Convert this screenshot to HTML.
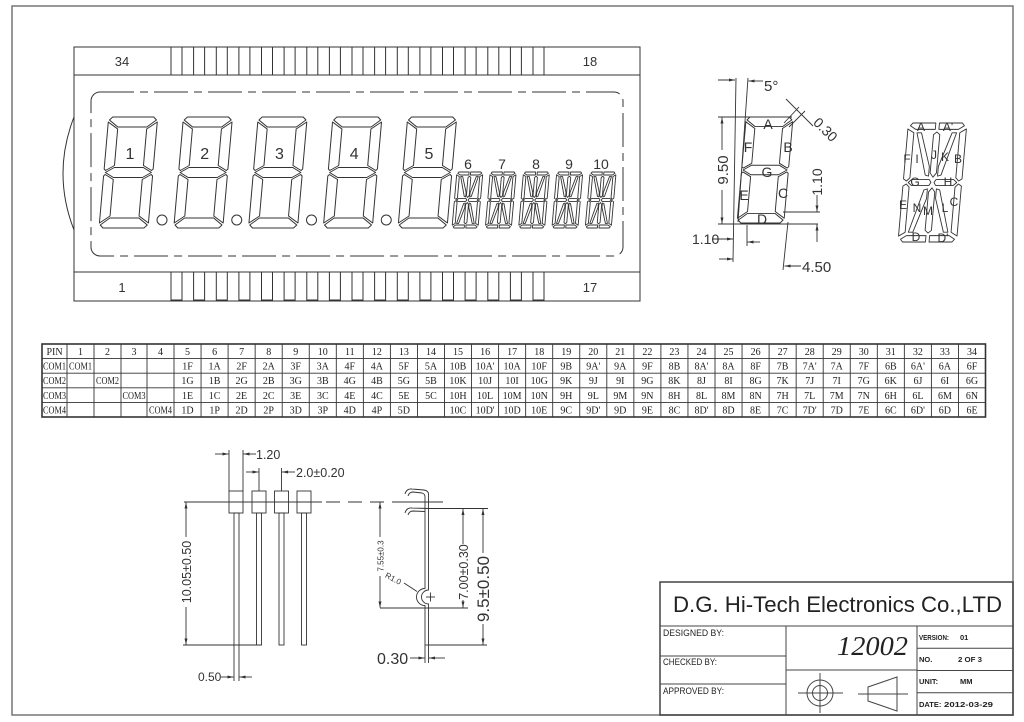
<!DOCTYPE html>
<html><head><meta charset="utf-8"><style>
html,body{margin:0;padding:0;background:#fff}
svg{display:block}
</style></head><body>
<svg xmlns="http://www.w3.org/2000/svg" width="1024" height="722" viewBox="0 0 1024 722">
<defs>
<marker id="a" viewBox="0 0 8 4" refX="8" refY="2" markerWidth="7" markerHeight="3" orient="auto-start-reverse" markerUnits="userSpaceOnUse"><path d="M0,0L8,2L0,4z" fill="#333"/></marker>
<g id="d7" transform="translate(0,-111)" fill="none" stroke="#333" stroke-width="1" stroke-linejoin="round">
<polygon points="4,0 45,0 48,3 39,10 10,10 1,3"/>
<polygon points="49,5 49,52 47.5,53.5 39,48.5 39,12"/>
<polygon points="0,5 10,12 10,48.5 1.5,53.5 0,52"/>
<polygon points="1.5,55.5 10,50.5 39,50.5 47.5,55.5 39,60.5 10,60.5"/>
<polygon points="49,106 49,59 47.5,57.5 39,62.5 39,99"/>
<polygon points="0,106 0,59 1.5,57.5 10,62.5 10,99"/>
<polygon points="4,111 45,111 48,108 39,101 10,101 1,108"/>
</g>
<g id="d14" transform="translate(0,-56)" fill="none" stroke="#333" stroke-width="0.9" stroke-linejoin="round">
<polygon vector-effect="non-scaling-stroke" points="2,0 12.2,0 12.2,3 3.5,3 1,1.3"/>
<polygon vector-effect="non-scaling-stroke" points="13.8,0 24,0 25,1.3 22.5,3 13.8,3"/>
<polygon vector-effect="non-scaling-stroke" points="0,2.8 2.8,4.6 2.8,25.8 1.4,27.3 0,26.3"/>
<polygon vector-effect="non-scaling-stroke" points="26,2.8 26,26.3 24.6,27.3 23.2,25.8 23.2,4.6"/>
<polygon vector-effect="non-scaling-stroke" points="0,29.7 1.4,28.7 2.8,30.2 2.8,51.4 0,53.2"/>
<polygon vector-effect="non-scaling-stroke" points="26,29.7 24.6,28.7 23.2,30.2 23.2,51.4 26,53.2"/>
<polygon vector-effect="non-scaling-stroke" points="1,54.7 3.5,53 12.2,53 12.2,56 2,56"/>
<polygon vector-effect="non-scaling-stroke" points="13.8,53 22.5,53 25,54.7 24,56 13.8,56"/>
<polygon vector-effect="non-scaling-stroke" points="2.2,28 3.7,26.6 11.5,26.6 12.3,28 11.5,29.4 3.7,29.4"/>
<polygon vector-effect="non-scaling-stroke" points="13.7,28 14.5,26.6 22.3,26.6 23.8,28 22.3,29.4 14.5,29.4"/>
<polygon vector-effect="non-scaling-stroke" points="11.6,5.5 13,4.2 14.4,5.5 14.4,23.5 13,25.5 11.6,23.5"/>
<polygon vector-effect="non-scaling-stroke" points="11.6,32.5 13,30.5 14.4,32.5 14.4,50.5 13,51.8 11.6,50.5"/>
<polygon vector-effect="non-scaling-stroke" points="4.2,4.6 6.2,4.6 11,20.5 11,25 9.5,24.5"/>
<polygon vector-effect="non-scaling-stroke" points="21.8,4.6 19.8,4.6 15,20.5 15,25 16.5,24.5"/>
<polygon vector-effect="non-scaling-stroke" points="4.2,51.4 6.2,51.4 11,35.5 11,31 9.5,31.5"/>
<polygon vector-effect="non-scaling-stroke" points="21.8,51.4 19.8,51.4 15,35.5 15,31 16.5,31.5"/>
</g>
<g id="pins" fill="none" stroke="#333" stroke-width="1">
<rect x="171" y="47" width="11" height="28"/><rect x="193.6" y="47" width="11" height="28"/><rect x="216.3" y="47" width="11" height="28"/><rect x="238.9" y="47" width="11" height="28"/><rect x="261.5" y="47" width="11" height="28"/><rect x="284.1" y="47" width="11" height="28"/><rect x="306.8" y="47" width="11" height="28"/><rect x="329.4" y="47" width="11" height="28"/><rect x="352" y="47" width="11" height="28"/><rect x="374.6" y="47" width="11" height="28"/><rect x="397.3" y="47" width="11" height="28"/><rect x="419.9" y="47" width="11" height="28"/><rect x="442.5" y="47" width="11" height="28"/><rect x="465.1" y="47" width="11" height="28"/><rect x="487.8" y="47" width="11" height="28"/><rect x="510.4" y="47" width="11" height="28"/><rect x="533" y="47" width="11" height="28"/>
</g>
</defs>

<!-- outer frame -->
<rect x="12" y="6" width="1001" height="709" fill="none" stroke="#777" stroke-width="1.5"/>

<!-- LCD outline -->
<g fill="none" stroke="#333" stroke-width="1">
<rect x="74" y="47" width="566" height="254"/>
<line x1="74" y1="75" x2="640" y2="75"/>
<line x1="74" y1="272" x2="640" y2="272"/>
<path d="M74,117 Q52,173.5 74,230"/>
<rect x="91" y="92" width="532" height="164" rx="9" stroke-dasharray="34 6 8 6"/>
</g>
<use href="#pins"/>
<use href="#pins" transform="translate(0,225)"/>
<g font-family="Liberation Sans, DejaVu Sans, sans-serif" font-size="13" fill="#333" text-anchor="middle">
<text x="122" y="66">34</text><text x="590" y="66">18</text>
<text x="122" y="292">1</text><text x="590" y="292">17</text>
</g>

<!-- 7-seg digits -->
<use href="#d7" transform="translate(99,228) skewX(-5)"/>
<use href="#d7" transform="translate(173.75,228) skewX(-5)"/>
<use href="#d7" transform="translate(248.5,228) skewX(-5)"/>
<use href="#d7" transform="translate(323.25,228) skewX(-5)"/>
<use href="#d7" transform="translate(398,228) skewX(-5)"/>
<g fill="none" stroke="#333" stroke-width="1">
<circle cx="162" cy="220" r="5"/><circle cx="236.75" cy="220" r="5"/><circle cx="311.5" cy="220" r="5"/><circle cx="386.25" cy="220" r="5"/>
</g>
<g font-family="Liberation Sans, DejaVu Sans, sans-serif" font-size="16" fill="#333" text-anchor="middle">
<text x="130" y="159">1</text><text x="204.75" y="159">2</text><text x="279.5" y="159">3</text><text x="354.25" y="159">4</text><text x="429" y="159">5</text>
</g>
<!-- 14-seg digits -->
<use href="#d14" transform="translate(452,228) skewX(-5)"/>
<use href="#d14" transform="translate(485.3,228) skewX(-5)"/>
<use href="#d14" transform="translate(518.6,228) skewX(-5)"/>
<use href="#d14" transform="translate(551.9,228) skewX(-5)"/>
<use href="#d14" transform="translate(585.2,228) skewX(-5)"/>
<g font-family="Liberation Sans, DejaVu Sans, sans-serif" font-size="14" fill="#333" text-anchor="middle">
<text x="468" y="169">6</text><text x="502" y="169">7</text><text x="536" y="169">8</text><text x="569" y="169">9</text><text x="601" y="169">10</text>
</g>

<!-- right 7-seg dimension diagram -->
<use href="#d7" transform="translate(737,223) skewX(-5) scale(0.955)"/>
<g fill="none" stroke="#333" stroke-width="0.9">
<line x1="736" y1="78" x2="733" y2="262"/>
<line x1="748" y1="78" x2="738" y2="222"/>
<line x1="718" y1="117" x2="792" y2="117"/>
<line x1="718" y1="224" x2="818" y2="224"/>
<line x1="722" y1="150" x2="722" y2="117.5" marker-end="url(#a)"/>
<line x1="722" y1="190" x2="722" y2="223.5" marker-end="url(#a)"/>
<line x1="718" y1="80" x2="735" y2="80" marker-end="url(#a)"/>
<line x1="763" y1="81" x2="748.5" y2="81" marker-end="url(#a)"/>
<line x1="786" y1="99" x2="813" y2="126"/>
<line x1="789" y1="127" x2="805" y2="111"/>
<line x1="784" y1="123" x2="799" y2="107"/>
<line x1="783" y1="212" x2="820" y2="212"/>
<line x1="817" y1="195" x2="817" y2="211.5" marker-end="url(#a)"/>
<line x1="817" y1="242" x2="817" y2="224.5" marker-end="url(#a)"/>
<line x1="712" y1="239" x2="733" y2="239" marker-end="url(#a)"/>
<line x1="747" y1="225" x2="747" y2="246"/>
<line x1="760" y1="242" x2="747.5" y2="242" marker-end="url(#a)"/>
<line x1="788" y1="222" x2="783" y2="270"/>
<line x1="719" y1="259" x2="733" y2="259" marker-end="url(#a)"/>
<line x1="801" y1="266" x2="784.5" y2="266" marker-end="url(#a)"/>
</g>
<g font-family="Liberation Sans, DejaVu Sans, sans-serif" fill="#333">
<text x="764" y="91" font-size="15">5°</text>
<text transform="translate(822,133) rotate(45)" font-size="14" text-anchor="middle">0.30</text>
<text transform="translate(728,170) rotate(-90)" font-size="15" text-anchor="middle">9.50</text>
<text transform="translate(822,182) rotate(-90)" font-size="14" text-anchor="middle">1.10</text>
<text x="692" y="244" font-size="14">1.10</text>
<text x="802" y="272" font-size="15">4.50</text>
</g>
<g font-family="Liberation Sans, DejaVu Sans, sans-serif" font-size="14" fill="#333" text-anchor="middle">
<text x="768" y="129">A</text><text x="748" y="152">F</text><text x="788" y="152">B</text><text x="767" y="177">G</text><text x="744" y="200">E</text><text x="783" y="198">C</text><text x="762" y="224">D</text>
</g>

<!-- right 14-seg diagram -->
<use href="#d14" transform="translate(898,242) skewX(-5) scale(2.25,2.125)"/>
<g font-family="Liberation Sans, DejaVu Sans, sans-serif" font-size="12" fill="#333" text-anchor="middle">
<text x="921" y="131">A</text><text x="948" y="131">A'</text>
<text x="907" y="163">F</text><text x="917" y="163">I</text><text x="934" y="159">J</text><text x="945" y="161">K</text><text x="958" y="163">B</text>
<text x="915" y="186">G</text><text x="948" y="186">H</text>
<text x="903" y="209">E</text><text x="917" y="212">N</text><text x="928" y="215">M</text><text x="945" y="212">L</text><text x="954" y="206">C</text>
<text x="916" y="241">D</text><text x="943" y="242">D'</text>
</g>

<!-- table -->
<g fill="none" stroke="#333">
<rect x="42" y="344" width="943.5" height="73" stroke-width="1.6"/>
<path stroke-width="0.9" d="M42,358.6H985.5M42,373.2H985.5M42,387.8H985.5M42,402.4H985.5
M67,344V417M94,344V417M121,344V417M147,344V417M174,344V417
M201.05,344V417M228.1,344V417M255.15,344V417M282.2,344V417M309.25,344V417M336.3,344V417M363.35,344V417M390.4,344V417M417.45,344V417M444.5,344V417M471.55,344V417M498.6,344V417M525.65,344V417M552.7,344V417M579.75,344V417M606.8,344V417M633.85,344V417M660.9,344V417M687.95,344V417M715,344V417M742.05,344V417M769.1,344V417M796.15,344V417M823.2,344V417M850.25,344V417M877.3,344V417M904.35,344V417M931.4,344V417M958.45,344V417"/>
</g>
<g font-family="Liberation Serif, DejaVu Serif, serif" font-size="10" fill="#222" text-anchor="middle">
<text y="355"><tspan x="54.5">PIN</tspan><tspan x="80.5">1</tspan><tspan x="107.5">2</tspan><tspan x="134">3</tspan><tspan x="160.5">4</tspan><tspan x="187.5">5</tspan><tspan x="214.6">6</tspan><tspan x="241.6">7</tspan><tspan x="268.7">8</tspan><tspan x="295.7">9</tspan><tspan x="322.8">10</tspan><tspan x="349.8">11</tspan><tspan x="376.9">12</tspan><tspan x="403.9">13</tspan><tspan x="431">14</tspan><tspan x="458">15</tspan><tspan x="485.1">16</tspan><tspan x="512.1">17</tspan><tspan x="539.2">18</tspan><tspan x="566.2">19</tspan><tspan x="593.3">20</tspan><tspan x="620.3">21</tspan><tspan x="647.4">22</tspan><tspan x="674.4">23</tspan><tspan x="701.5">24</tspan><tspan x="728.5">25</tspan><tspan x="755.6">26</tspan><tspan x="782.6">27</tspan><tspan x="809.7">28</tspan><tspan x="836.7">29</tspan><tspan x="863.8">30</tspan><tspan x="890.8">31</tspan><tspan x="917.9">32</tspan><tspan x="944.9">33</tspan><tspan x="972">34</tspan></text>
<text x="54.5" y="369.6" textLength="23" lengthAdjust="spacingAndGlyphs">COM1</text>
<text x="80.5" y="369.6" textLength="23" lengthAdjust="spacingAndGlyphs">COM1</text>
<text y="369.6"><tspan x="187.5">1F</tspan><tspan x="214.6">1A</tspan><tspan x="241.6">2F</tspan><tspan x="268.7">2A</tspan><tspan x="295.7">3F</tspan><tspan x="322.8">3A</tspan><tspan x="349.8">4F</tspan><tspan x="376.9">4A</tspan><tspan x="403.9">5F</tspan><tspan x="431">5A</tspan><tspan x="458">10B</tspan><tspan x="485.1">10A'</tspan><tspan x="512.1">10A</tspan><tspan x="539.2">10F</tspan><tspan x="566.2">9B</tspan><tspan x="593.3">9A'</tspan><tspan x="620.3">9A</tspan><tspan x="647.4">9F</tspan><tspan x="674.4">8B</tspan><tspan x="701.5">8A'</tspan><tspan x="728.5">8A</tspan><tspan x="755.6">8F</tspan><tspan x="782.6">7B</tspan><tspan x="809.7">7A'</tspan><tspan x="836.7">7A</tspan><tspan x="863.8">7F</tspan><tspan x="890.8">6B</tspan><tspan x="917.9">6A'</tspan><tspan x="944.9">6A</tspan><tspan x="972">6F</tspan></text>
<text x="54.5" y="384.2" textLength="23" lengthAdjust="spacingAndGlyphs">COM2</text>
<text x="107.5" y="384.2" textLength="23" lengthAdjust="spacingAndGlyphs">COM2</text>
<text y="384.2"><tspan x="187.5">1G</tspan><tspan x="214.6">1B</tspan><tspan x="241.6">2G</tspan><tspan x="268.7">2B</tspan><tspan x="295.7">3G</tspan><tspan x="322.8">3B</tspan><tspan x="349.8">4G</tspan><tspan x="376.9">4B</tspan><tspan x="403.9">5G</tspan><tspan x="431">5B</tspan><tspan x="458">10K</tspan><tspan x="485.1">10J</tspan><tspan x="512.1">10I</tspan><tspan x="539.2">10G</tspan><tspan x="566.2">9K</tspan><tspan x="593.3">9J</tspan><tspan x="620.3">9I</tspan><tspan x="647.4">9G</tspan><tspan x="674.4">8K</tspan><tspan x="701.5">8J</tspan><tspan x="728.5">8I</tspan><tspan x="755.6">8G</tspan><tspan x="782.6">7K</tspan><tspan x="809.7">7J</tspan><tspan x="836.7">7I</tspan><tspan x="863.8">7G</tspan><tspan x="890.8">6K</tspan><tspan x="917.9">6J</tspan><tspan x="944.9">6I</tspan><tspan x="972">6G</tspan></text>
<text x="54.5" y="398.8" textLength="23" lengthAdjust="spacingAndGlyphs">COM3</text>
<text x="134" y="398.8" textLength="23" lengthAdjust="spacingAndGlyphs">COM3</text>
<text y="398.8"><tspan x="187.5">1E</tspan><tspan x="214.6">1C</tspan><tspan x="241.6">2E</tspan><tspan x="268.7">2C</tspan><tspan x="295.7">3E</tspan><tspan x="322.8">3C</tspan><tspan x="349.8">4E</tspan><tspan x="376.9">4C</tspan><tspan x="403.9">5E</tspan><tspan x="431">5C</tspan><tspan x="458">10H</tspan><tspan x="485.1">10L</tspan><tspan x="512.1">10M</tspan><tspan x="539.2">10N</tspan><tspan x="566.2">9H</tspan><tspan x="593.3">9L</tspan><tspan x="620.3">9M</tspan><tspan x="647.4">9N</tspan><tspan x="674.4">8H</tspan><tspan x="701.5">8L</tspan><tspan x="728.5">8M</tspan><tspan x="755.6">8N</tspan><tspan x="782.6">7H</tspan><tspan x="809.7">7L</tspan><tspan x="836.7">7M</tspan><tspan x="863.8">7N</tspan><tspan x="890.8">6H</tspan><tspan x="917.9">6L</tspan><tspan x="944.9">6M</tspan><tspan x="972">6N</tspan></text>
<text x="54.5" y="413.4" textLength="23" lengthAdjust="spacingAndGlyphs">COM4</text>
<text x="160.5" y="413.4" textLength="23" lengthAdjust="spacingAndGlyphs">COM4</text>
<text y="413.4"><tspan x="187.5">1D</tspan><tspan x="214.6">1P</tspan><tspan x="241.6">2D</tspan><tspan x="268.7">2P</tspan><tspan x="295.7">3D</tspan><tspan x="322.8">3P</tspan><tspan x="349.8">4D</tspan><tspan x="376.9">4P</tspan><tspan x="403.9">5D</tspan><tspan x="458">10C</tspan><tspan x="485.1">10D'</tspan><tspan x="512.1">10D</tspan><tspan x="539.2">10E</tspan><tspan x="566.2">9C</tspan><tspan x="593.3">9D'</tspan><tspan x="620.3">9D</tspan><tspan x="647.4">9E</tspan><tspan x="674.4">8C</tspan><tspan x="701.5">8D'</tspan><tspan x="728.5">8D</tspan><tspan x="755.6">8E</tspan><tspan x="782.6">7C</tspan><tspan x="809.7">7D'</tspan><tspan x="836.7">7D</tspan><tspan x="863.8">7E</tspan><tspan x="890.8">6C</tspan><tspan x="917.9">6D'</tspan><tspan x="944.9">6D</tspan><tspan x="972">6E</tspan></text>
</g>

<!-- pin drawing front -->
<g fill="none" stroke="#333" stroke-width="0.9">
<line x1="184" y1="502" x2="322" y2="502"/>
<line x1="326" y1="502" x2="400" y2="502" stroke-dasharray="14 8"/>
<line x1="400" y1="502" x2="443" y2="502"/>
<rect x="229" y="491" width="14" height="22"/>
<rect x="252" y="491" width="14" height="22"/>
<rect x="274.5" y="491" width="14" height="22"/>
<rect x="297" y="491" width="14" height="22"/>
<rect x="234" y="513" width="5" height="132"/>
<rect x="256.5" y="513" width="5" height="132"/>
<rect x="279" y="513" width="5" height="132"/>
<rect x="301.5" y="513" width="5" height="132"/>
<line x1="234" y1="645" x2="234" y2="681"/>
<line x1="239" y1="645" x2="239" y2="681"/>
<line x1="183" y1="645" x2="262" y2="645"/>
<line x1="186" y1="537" x2="186" y2="502.5" marker-end="url(#a)"/>
<line x1="186" y1="607" x2="186" y2="644.5" marker-end="url(#a)"/>
<line x1="229" y1="450" x2="229" y2="491"/>
<line x1="243" y1="450" x2="243" y2="491"/>
<line x1="215" y1="454" x2="228.5" y2="454" marker-end="url(#a)"/>
<line x1="256" y1="454" x2="243.5" y2="454" marker-end="url(#a)"/>
<line x1="259" y1="468" x2="259" y2="491"/>
<line x1="281.5" y1="468" x2="281.5" y2="491"/>
<line x1="246" y1="472" x2="258.5" y2="472" marker-end="url(#a)"/>
<line x1="295" y1="472" x2="282" y2="472" marker-end="url(#a)"/>
<line x1="221" y1="677" x2="233.5" y2="677" marker-end="url(#a)"/>
<line x1="252" y1="677" x2="239.5" y2="677" marker-end="url(#a)"/>
</g>
<g font-family="Liberation Sans, DejaVu Sans, sans-serif" fill="#333">
<text x="256" y="459" font-size="12.5">1.20</text>
<text x="296" y="477" font-size="12.5">2.0±0.20</text>
<text transform="translate(191,572) rotate(-90)" font-size="12.5" text-anchor="middle">10.05±0.50</text>
<text x="198" y="681" font-size="12">0.50</text>
</g>

<!-- pin drawing side -->
<g fill="none" stroke="#333" stroke-width="0.9">
<path d="M405,494 C406,490 409,488.5 412,489 L424,490 C426.5,490.5 428.5,491.5 428.5,494"/>
<path d="M408,496 C409,493 411,492 413,492 L422,493 C424,493.5 425,494.5 425,497"/>
<path d="M405,513 C406,509 409,507.5 412,508 L428.5,508.5"/>
<path d="M408,515 C409,512 411,511 413,511 L425,511.5"/>
<path d="M425,497 V588.5 A8.5,8.5 0 0 0 425,605.5 V645"/>
<path d="M428.5,494 V590 A7,7 0 0 0 428.5,604 V645"/>
<line x1="425" y1="645" x2="428.5" y2="645"/>
<line x1="426" y1="597" x2="435" y2="597"/>
<line x1="430.5" y1="592.5" x2="430.5" y2="601.5"/>
<line x1="404" y1="583" x2="417" y2="591.5"/>
<line x1="428" y1="508.5" x2="488" y2="508.5"/>
<line x1="380" y1="608" x2="468" y2="608"/>
<line x1="429" y1="645" x2="487" y2="645"/>
<line x1="380" y1="537" x2="380" y2="502.5" marker-end="url(#a)"/>
<line x1="380" y1="576" x2="380" y2="607.5" marker-end="url(#a)"/>
<line x1="463" y1="544" x2="463" y2="509" marker-end="url(#a)"/>
<line x1="463" y1="600" x2="463" y2="607.5" marker-end="url(#a)"/>
<line x1="483" y1="553" x2="483" y2="509" marker-end="url(#a)"/>
<line x1="483" y1="624" x2="483" y2="644.5" marker-end="url(#a)"/>
<line x1="425" y1="645" x2="425" y2="663"/>
<line x1="428.5" y1="645" x2="428.5" y2="663"/>
<line x1="410" y1="658" x2="424.5" y2="658" marker-end="url(#a)"/>
<line x1="445" y1="658" x2="429" y2="658" marker-end="url(#a)"/>
</g>
<g font-family="Liberation Sans, DejaVu Sans, sans-serif" fill="#333">
<text transform="translate(383.5,556) rotate(-90)" font-size="8" text-anchor="middle">7.55±0.3</text>
<text transform="translate(392,581) rotate(28)" font-size="8" text-anchor="middle">R1.0</text>
<text transform="translate(468,572) rotate(-90)" font-size="12.5" text-anchor="middle">7.00±0.30</text>
<text transform="translate(489,589) rotate(-90)" font-size="17" text-anchor="middle">9.5±0.50</text>
<text x="377" y="664" font-size="16">0.30</text>
</g>

<!-- title block -->
<g fill="none" stroke="#444" stroke-width="1">
<rect x="660" y="582" width="353" height="133" stroke-width="1.5"/>
<line x1="660" y1="626" x2="1013" y2="626"/>
<line x1="786" y1="626" x2="786" y2="715"/>
<line x1="917" y1="626" x2="917" y2="715"/>
<line x1="660" y1="656" x2="786" y2="656"/>
<line x1="660" y1="684" x2="786" y2="684"/>
<line x1="786" y1="670" x2="917" y2="670"/>
<line x1="917" y1="648.3" x2="1013" y2="648.3"/>
<line x1="917" y1="670.5" x2="1013" y2="670.5"/>
<line x1="917" y1="692.8" x2="1013" y2="692.8"/>
<circle cx="820" cy="693" r="13"/>
<circle cx="820" cy="693" r="7.5"/>
<line x1="798" y1="693" x2="843" y2="693"/>
<line x1="820" y1="673" x2="820" y2="713"/>
<polygon points="868,687 897,677 897,711 868,701"/>
<line x1="858" y1="694" x2="908" y2="694"/>
</g>
<g font-family="Liberation Sans, DejaVu Sans, sans-serif" fill="#222">
<text x="673" y="612" font-size="22" textLength="329" lengthAdjust="spacingAndGlyphs">D.G. Hi-Tech Electronics Co.,LTD</text>
<text x="663" y="636" font-size="9.5" textLength="61" lengthAdjust="spacingAndGlyphs">DESIGNED BY:</text>
<text x="663" y="665" font-size="9.5" textLength="54" lengthAdjust="spacingAndGlyphs">CHECKED BY:</text>
<text x="663" y="694" font-size="9.5" textLength="61" lengthAdjust="spacingAndGlyphs">APPROVED BY:</text>
<g font-size="7.5" font-weight="bold">
<text x="919" y="640" textLength="30" lengthAdjust="spacingAndGlyphs">VERSION:</text><text x="960" y="640">01</text>
<text x="919" y="662">NO.</text><text x="958" y="662" textLength="24" lengthAdjust="spacingAndGlyphs">2 OF 3</text>
<text x="919" y="684">UNIT:</text><text x="960" y="684">MM</text>
<text x="919" y="707">DATE:</text><text x="944" y="707" textLength="49" lengthAdjust="spacingAndGlyphs">2012-03-29</text>
</g>
</g>
<text x="837" y="655" font-family="Liberation Serif, DejaVu Serif, serif" font-style="italic" font-size="27" fill="#222" textLength="71" lengthAdjust="spacingAndGlyphs">12002</text>
</svg>
</body></html>
